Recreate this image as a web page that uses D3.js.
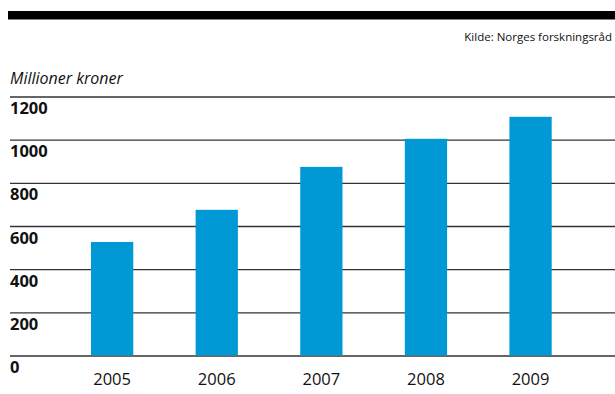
<!DOCTYPE html>
<html>
<head>
<meta charset="utf-8">
<script src="https://cdn.jsdelivr.net/npm/d3@7"></script>
<style>
  body { margin: 0; background: #fff; }
  svg { display: block; font-family: "Open Sans", "Noto Sans", sans-serif; }
  .grid line { stroke: #333; stroke-width: 1.3; }
  .grid .domain { display: none; }
</style>
</head>
<body>
<svg width="615" height="394"></svg>
<script>
// Data
const years = ['2005', '2006', '2007', '2008', '2009'];
const values = [526, 675, 874, 1004, 1106];
const yTicks = [0, 200, 400, 600, 800, 1000, 1200];

const svg = d3.select('svg');

// top black band
svg.append('rect')
  .attr('x', 8)
  .attr('y', 11)
  .attr('width', 607)
  .attr('height', 8.5)
  .attr('fill', '#000');

svg.append('text')
  .attr('x', 612)
  .attr('y', 41)
  .attr('text-anchor', 'end')
  .attr('font-size', 11.5)
  .attr('fill', '#111')
  .text('Kilde: Norges forskningsråd');

svg.append('text')
  .attr('x', 10)
  .attr('y', 84)
  .attr('font-size', 16)
  .attr('font-style', 'italic')
  .attr('fill', '#111')
  .text('Millioner kroner');

const y = d3.scaleLinear()
  .domain([0, 1200])
  .range([355.5, 96.5]);

const x = d3.scaleBand()
  .domain(years)
  .range([38.7, 604])
  .paddingInner(0.596)
  .paddingOuter(0.5);

// grid lines
svg.append('g')
  .attr('class', 'grid')
  .attr('transform', 'translate(10,0)')
  .call(d3.axisRight(y)
    .tickValues(yTicks)
    .tickSize(605)
    .tickFormat('')
  );

// y labels sit under each line
svg.append('g')
  .selectAll('text')
  .data(yTicks)
  .enter()
  .append('text')
    .attr('x', 10)
    .attr('y', d => y(d) + 17.5)
    .attr('font-size', 16.5)
    .attr('font-weight', 'bold')
    .attr('fill', '#111')
    .text(d => d);

// bars
svg.append('g')
  .selectAll('rect')
  .data(years)
  .enter()
  .append('rect')
    .attr('x', d => x(d))
    .attr('y', (d, i) => y(values[i]))
    .attr('width', x.bandwidth())
    .attr('height', (d, i) => y(0) - y(values[i]))
    .attr('fill', '#0098d5');

// x labels
svg.append('g')
  .selectAll('text')
  .data(years)
  .enter()
  .append('text')
    .attr('x', d => x(d) + x.bandwidth() / 2)
    .attr('y', 384.5)
    .attr('text-anchor', 'middle')
    .attr('font-size', 16.5)
    .attr('fill', '#111')
    .text(d => d);
</script>
</body>
</html>
